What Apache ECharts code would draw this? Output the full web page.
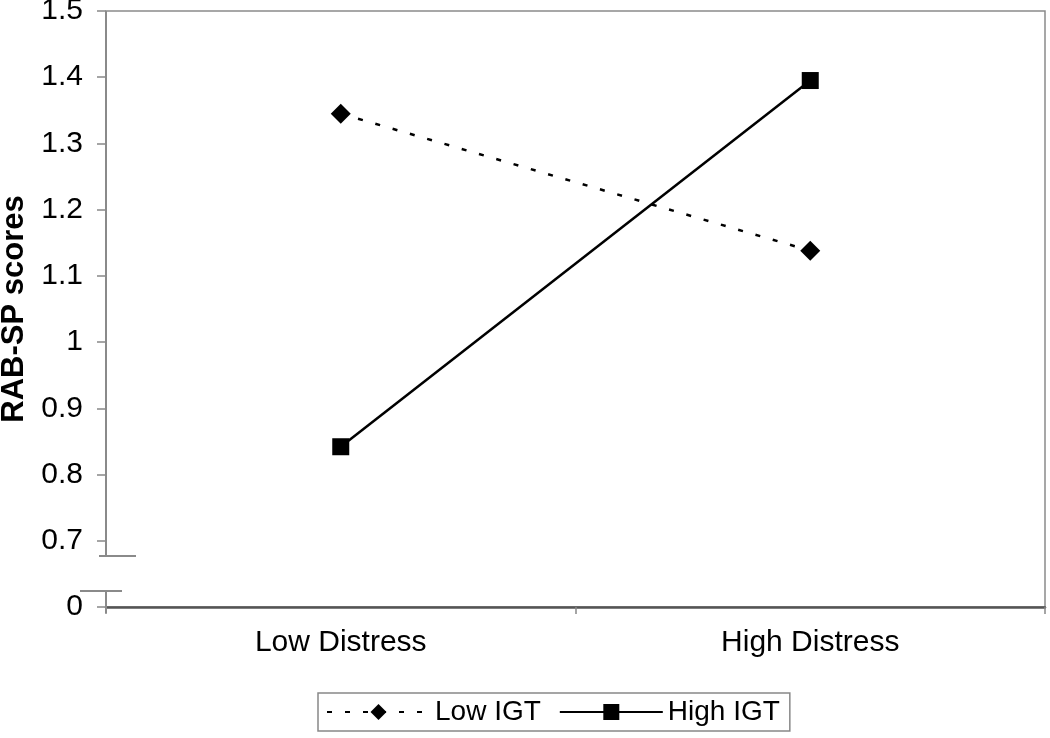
<!DOCTYPE html>
<html>
<head>
<meta charset="utf-8">
<script src="https://cdn.jsdelivr.net/npm/echarts@6/dist/echarts.min.js"></script>
<style>
  html, body { margin: 0; padding: 0; background: #fff; }
  #chart { width: 1050px; height: 738px; }
</style>
</head>
<body>
<div id="chart"></div>
<script>
// categories and series values
var categories = ['Low Distress', 'High Distress']
var lowIGT = [1.345, 1.138]
var highIGT = [0.842, 1.395]
// y axis is broken: the bottom tick (0.6 on the scale) is labelled "0"
var yMin = 0.6
var yMax = 1.5
var yStep = 0.1

var chart = echarts.init(document.getElementById('chart'))

var option = {
  backgroundColor: '#fff',
  animation: false,
  textStyle: { fontFamily: 'Liberation Sans, Arial, sans-serif' },
  grid: {
    left: 106, top: 11, right: 5, bottom: 131,
    outerBoundsMode: 'none',
    containLabel: false,
    show: true, borderColor: '#8a8a8a', borderWidth: 1.5
  },
  legend: {
    left: 318, top: 693,
    padding: [5, 10, 5, 8],
    borderColor: '#888', borderWidth: 1.5,
    itemWidth: 103, itemHeight: 20, itemGap: 18,
    textStyle: { fontSize: 28, color: '#000' },
    data: ['Low IGT', 'High IGT']
  },
  xAxis: {
    type: 'category',
    data: categories,
    axisLine: { lineStyle: { color: '#555', width: 2.5 } },
    axisTick: { show: true, length: 7, lineStyle: { color: '#888', width: 1.5 } },
    axisLabel: { fontSize: 30, color: '#000', margin: 21 }
  },
  yAxis: {
    type: 'value',
    min: yMin, max: yMax, interval: yStep,
    name: 'RAB-SP scores',
    nameLocation: 'middle',
    nameGap: 76,
    nameTextStyle: { fontSize: 31, fontWeight: 'bold', color: '#000' },
    axisLine: { show: false },
    axisTick: { show: true, length: 9, lineStyle: { color: '#888', width: 1.5 } },
    splitLine: { show: false },
    axisLabel: {
      fontSize: 30, color: '#000', margin: 23,
      formatter: function (v) {
        if (Math.abs(v - yMin) < 1e-6) return '0'
        return (Math.round(v * 10) / 10).toString()
      }
    }
  },
  series: [
    {
      name: 'Low IGT',
      type: 'line',
      data: lowIGT,
      symbol: 'diamond',
      symbolSize: 20,
      itemStyle: { color: '#000' },
      lineStyle: { color: '#000', width: 2.5, type: [5, 13] }
    },
    {
      name: 'High IGT',
      type: 'line',
      data: highIGT,
      symbol: 'rect',
      symbolSize: 17,
      itemStyle: { color: '#000' },
      lineStyle: { color: '#000', width: 2.5, type: 'solid' }
    }
  ]
}
chart.setOption(option)

// broken y axis line with the two little break bars
var breakTop = 0.677
var breakBottom = 0.624
var x0 = chart.getModel().getComponent('grid').coordinateSystem.getRect().x
var yTop = chart.convertToPixel({ yAxisIndex: 0 }, yMax)
var yB1 = chart.convertToPixel({ yAxisIndex: 0 }, breakTop)
var yB2 = chart.convertToPixel({ yAxisIndex: 0 }, breakBottom)
var yBot = chart.convertToPixel({ yAxisIndex: 0 }, yMin)
var axisStyle = { stroke: '#8a8a8a', lineWidth: 2 }
chart.setOption({
  graphic: [
    { type: 'line', shape: { x1: x0, y1: yTop, x2: x0, y2: yB1 }, style: axisStyle, z: 10 },
    { type: 'line', shape: { x1: x0 - 7, y1: yB1, x2: x0 + 30, y2: yB1 }, style: axisStyle, z: 10 },
    { type: 'rect', shape: { x: x0 - 1.5, y: yB1 + 1, width: 3, height: yB2 - yB1 - 2 }, style: { fill: '#fff' }, z: 9 },
    { type: 'line', shape: { x1: x0 - 26, y1: yB2, x2: x0 + 16, y2: yB2 }, style: axisStyle, z: 10 },
    { type: 'line', shape: { x1: x0, y1: yB2, x2: x0, y2: yBot + 6 }, style: axisStyle, z: 10 }
  ]
})
</script>
</body>
</html>
